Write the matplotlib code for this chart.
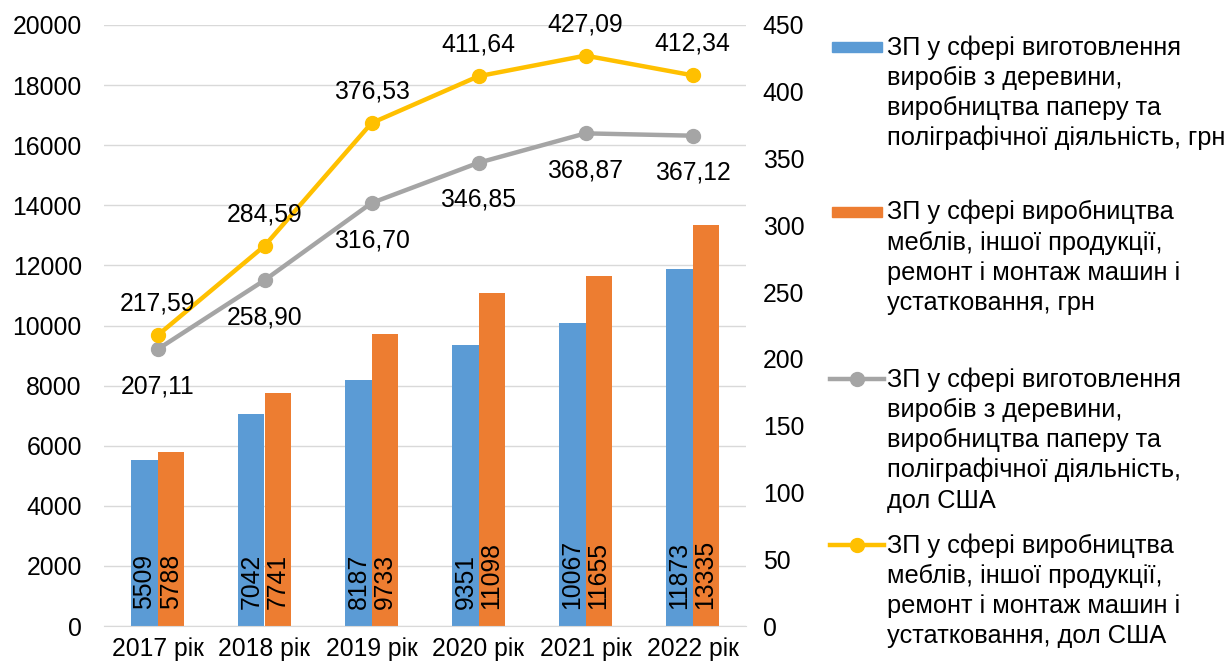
import matplotlib.pyplot as plt
import numpy as np
from matplotlib.lines import Line2D
from matplotlib.patches import Rectangle

plt.rcParams["font.family"] = ["Liberation Sans", "DejaVu Sans"]

years = ["2017 рік", "2018 рік", "2019 рік", "2020 рік", "2021 рік", "2022 рік"]
wood_uah = [5509, 7042, 8187, 9351, 10067, 11873]
furn_uah = [5788, 7741, 9733, 11098, 11655, 13335]
wood_usd = [207.11, 258.90, 316.70, 346.85, 368.87, 367.12]
furn_usd = [217.59, 284.59, 376.53, 411.64, 427.09, 412.34]

labels = [
    "ЗП у сфері виготовлення\nвиробів з деревини,\nвиробництва паперу та\nполіграфічної діяльність, грн",
    "ЗП у сфері виробництва\nмеблів, іншої продукції,\nремонт і монтаж машин і\nустатковання, грн",
    "ЗП у сфері виготовлення\nвиробів з деревини,\nвиробництва паперу та\nполіграфічної діяльність,\nдол США",
    "ЗП у сфері виробництва\nмеблів, іншої продукції,\nремонт і монтаж машин і\nустатковання, дол США",
]

C_BLUE = "#5B9BD5"
C_ORANGE = "#ED7D31"
C_GRAY = "#A5A5A5"
C_YELLOW = "#FFC000"
FS = 17.8
FS_LEG = 18.3

W, H = 1227, 668
fig = plt.figure(figsize=(W / 100, H / 100), dpi=100)
ax = fig.add_axes([104 / W, 1 - 626 / H, (746 - 104) / W, (626 - 25) / H])
ax2 = ax.twinx()

x = np.arange(len(years))
bw = 0.245
ax.bar(x - bw / 2, wood_uah, bw, color=C_BLUE, zorder=2)
ax.bar(x + bw / 2, furn_uah, bw, color=C_ORANGE, zorder=2)
for xi, v in zip(x - bw / 2, wood_uah):
    ax.annotate(str(v), (xi, 0), xytext=(0, 12), textcoords="offset points",
                rotation=90, ha="center", va="bottom", fontsize=FS)
for xi, v in zip(x + bw / 2, furn_uah):
    ax.annotate(str(v), (xi, 0), xytext=(0, 12), textcoords="offset points",
                rotation=90, ha="center", va="bottom", fontsize=FS)

ax.set_xlim(-0.5, len(years) - 0.5)
ax.set_ylim(0, 20000)
ax.set_yticks(range(0, 20001, 2000))
ax.set_xticks(x)
ax.set_xticklabels(years)
ax.grid(axis="y", color="#D9D9D9", lw=1, zorder=0)
ax.set_axisbelow(True)
ax.tick_params(axis="y", length=0, labelsize=FS, pad=16)
ax.tick_params(axis="x", length=0, labelsize=FS, pad=8)
for s in ["top", "left", "right"]:
    ax.spines[s].set_visible(False)
ax.spines["bottom"].set_color("#D9D9D9")

ax2.plot(x, wood_usd, color=C_GRAY, lw=3.2, marker="o", ms=10, zorder=3)
ax2.plot(x, furn_usd, color=C_YELLOW, lw=3.2, marker="o", ms=10, zorder=3)
for xi, v in zip(x, wood_usd):
    ax2.annotate(f"{v:.2f}".replace(".", ","), (xi, v), xytext=(0, -18),
                 textcoords="offset points", ha="center", va="top", fontsize=FS)
for xi, v in zip(x, furn_usd):
    ax2.annotate(f"{v:.2f}".replace(".", ","), (xi, v), xytext=(0, 14),
                 textcoords="offset points", ha="center", va="bottom", fontsize=FS)
ax2.set_ylim(0, 450)
ax2.set_yticks(range(0, 451, 50))
ax2.tick_params(axis="y", length=0, labelsize=FS, pad=12)
for s in ["top", "left", "right", "bottom"]:
    ax2.spines[s].set_visible(False)

# legend drawn by hand to follow the original spacing
entries = [
    ("bar", C_BLUE, 47, labels[0]),
    ("bar", C_ORANGE, 212, labels[1]),
    ("line", C_GRAY, 379, labels[2]),
    ("line", C_YELLOW, 545, labels[3]),
]
for kind, col, yp, txt in entries:
    yf = 1 - yp / H
    if kind == "bar":
        fig.patches.append(Rectangle((832 / W, yf - 5 / H), 50 / W, 10 / H,
                                     transform=fig.transFigure, color=col))
    else:
        fig.lines.append(Line2D([830 / W, 884 / W], [yf, yf], color=col, lw=3.2,
                                transform=fig.transFigure))
        fig.lines.append(Line2D([857 / W], [yf], color=col, marker="o", ms=10,
                                transform=fig.transFigure))
    fig.text(887 / W, yf + 12 / H, txt, ha="left", va="top", fontsize=FS_LEG,
             linespacing=1.32)

fig.savefig("out.png", dpi=100)
